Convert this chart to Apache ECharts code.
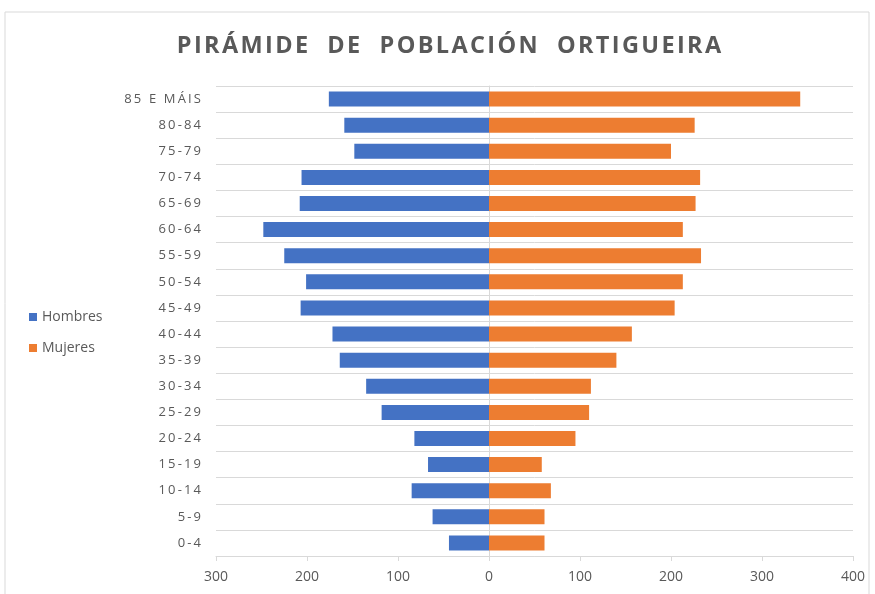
<!DOCTYPE html>
<html>
<head>
<meta charset="utf-8">
<script src="https://cdn.jsdelivr.net/npm/echarts@6/dist/echarts.min.js"></script>
<style>
  html, body { margin: 0; padding: 0; background: #fff; }
  #chart { width: 875px; height: 594px; }
</style>
</head>
<body>
<div id="chart"></div>
<script>
// grupos de idade (de abaixo a arriba)
var categories = ["0-4", "5-9", "10-14", "15-19", "20-24", "25-29", "30-34", "35-39", "40-44",
  "45-49", "50-54", "55-59", "60-64", "65-69", "70-74", "75-79", "80-84", "85 E MÁIS"];
var hombres = [44, 62, 85, 67, 82, 118, 135, 164, 172, 207, 201, 225, 248, 208, 206, 148, 159, 176];
var mujeres = [61, 61, 68, 58, 95, 110, 112, 140, 157, 204, 213, 233, 213, 227, 232, 200, 226, 342];
var xTicks = [-300, -200, -100, 0, 100, 200, 300, 400];

var myChart = echarts.init(document.getElementById("chart"));

function spaced(s, sp) {
  return s.split("").join(sp || "\u200A");
}

var option = {
  backgroundColor: "#fff",
  textStyle: { fontFamily: "Open Sans" },
  title: {
    text: spaced("PIRÁMIDE  DE  POBLACIÓN  ORTIGUEIRA"),
    left: 444,
    textAlign: "center",
    top: 29,
    textStyle: { fontSize: 23.5, fontWeight: "bold", color: "#595959", fontFamily: "Open Sans" }
  },
  legend: {
    orient: "vertical",
    left: 24,
    top: 305,
    itemWidth: 8,
    itemHeight: 8,
    itemGap: 17,
    icon: "rect",
    textStyle: { fontSize: 14, color: "#595959" },
    data: ["Hombres", "Mujeres"]
  },
  graphic: [{
    type: "rect",
    shape: { x: 5, y: 12, width: 864, height: 600 },
    style: { fill: "none", stroke: "#d9d9d9", lineWidth: 1 },
    silent: true
  }],
  grid: { left: 216, right: 22, top: 86, bottom: 38 },
  xAxis: {
    type: "value",
    min: xTicks[0],
    max: xTicks[xTicks.length - 1],
    interval: 100,
    axisLine: { show: true, lineStyle: { color: "#d9d9d9" } },
    axisTick: { show: true, length: 5, lineStyle: { color: "#d9d9d9" } },
    splitLine: { show: false },
    axisLabel: {
      color: "#595959",
      fontSize: 14,
      margin: 14,
      formatter: function (v) { return Math.abs(v); }
    }
  },
  yAxis: {
    type: "category",
    data: categories,
    axisLine: { show: true, onZero: true, lineStyle: { color: "#d9d9d9" } },
    axisTick: { show: false },
    splitLine: { show: true, lineStyle: { color: "#d9d9d9" } },
    axisLabel: {
      color: "#595959",
      fontSize: 13,
      margin: 15,
      formatter: function (v) { return spaced(v, "\u2009"); }
    }
  },
  series: [
    {
      name: "Hombres",
      type: "bar",
      data: hombres.map(function (v) { return -v; }),
      barWidth: 15,
      barGap: "-100%",
      itemStyle: { color: "#4472c4" }
    },
    {
      name: "Mujeres",
      type: "bar",
      data: mujeres,
      barWidth: 15,
      itemStyle: { color: "#ed7d31" }
    }
  ]
};

myChart.setOption(option);
</script>
</body>
</html>
